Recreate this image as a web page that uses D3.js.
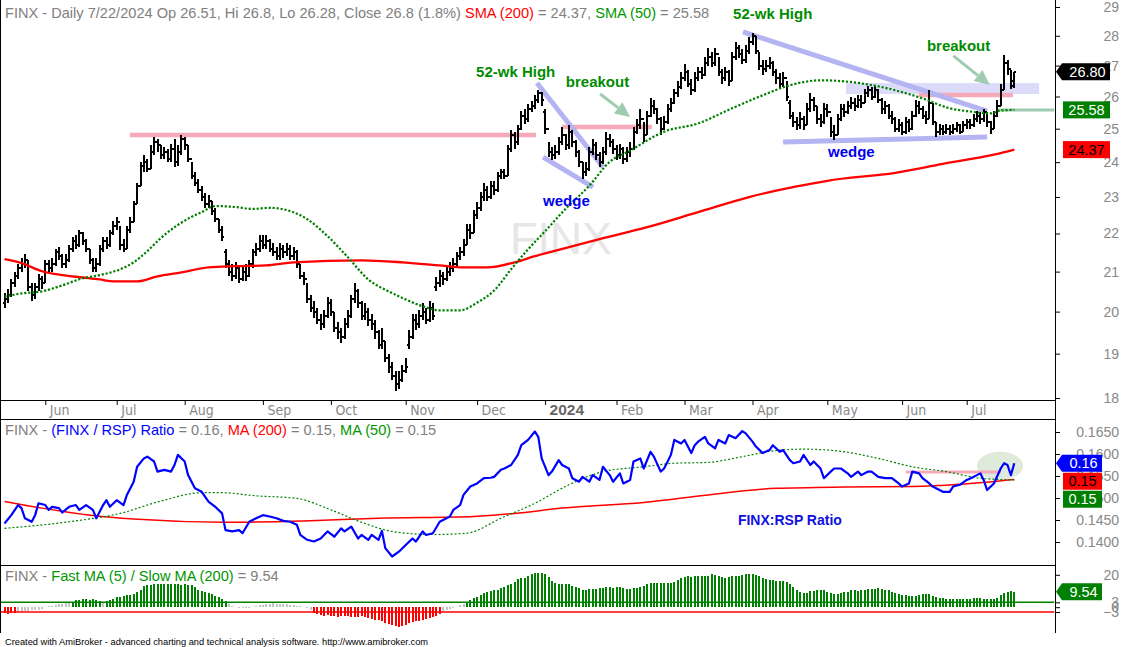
<!DOCTYPE html>
<html>
<head>
<meta charset="utf-8">
<script src="https://cdn.jsdelivr.net/npm/d3@7/dist/d3.min.js"></script>
<style>
  body { margin: 0; background: #fff; }
  svg { display: block; font-family: "Liberation Sans", Arial, sans-serif; }
  text { white-space: pre; }
</style>
</head>
<body>
<svg id="chart" width="1123" height="647"></svg>
<script>
// FINX daily bars. bar 0 = 15 May 2023, bar 297 = 22 Jul 2024
var opens = [
  20.2,20.3,20.4,20.7,20.9,21.1,21.2,21.3,20.6,20.4,
  20.6,20.8,20.7,21.2,21.1,21.2,21.5,21.4,21.2,21.3,
  21.6,21.8,21.7,22.0,21.8,21.6,21.3,21.1,21.2,21.6,
  21.8,21.7,22.0,22.2,22.3,21.7,21.6,22.1,22.3,22.8,
  23.3,23.9,24.0,23.8,24.3,24.6,24.5,24.2,24.3,24.1,
  24.4,24.0,24.3,24.7,24.5,24.1,23.6,23.4,23.2,23.0,
  22.8,22.9,22.6,22.4,22.1,21.5,21.2,21.0,20.9,21.1,
  20.8,21.0,20.9,21.2,21.5,21.6,21.8,21.7,21.8,21.6,
  21.5,21.4,21.6,21.5,21.6,21.4,21.5,21.2,20.9,20.8,
  20.3,20.1,20.0,19.8,19.7,19.9,20.2,20.0,19.6,19.5,
  19.4,19.7,19.9,20.3,20.5,20.2,19.9,20.0,19.8,19.7,
  19.5,19.2,19.3,18.9,18.7,18.5,18.3,18.4,18.6,19.2,
  19.4,19.8,19.7,19.9,20.0,19.8,20.1,20.6,20.7,20.9,
  20.8,21.0,21.1,21.2,21.4,21.5,21.7,22.1,22.0,22.5,
  22.7,23.0,23.2,23.0,23.3,23.2,23.6,23.7,23.6,24.4,
  24.8,24.6,25.0,25.4,25.3,25.6,25.7,25.9,26.1,25.5,
  25.0,24.3,24.2,24.3,24.6,24.8,24.5,24.9,24.6,24.3,
  24.0,23.7,23.8,24.3,24.5,24.2,24.0,24.3,24.7,24.6,
  24.4,24.2,24.4,24.1,24.3,24.4,24.9,25.1,25.3,24.8,
  25.4,25.7,25.6,25.3,25.0,25.2,25.6,25.8,26.1,26.3,
  26.6,26.8,26.4,26.2,26.6,26.8,26.7,27.1,27.3,27.1,
  27.4,26.8,26.6,26.8,26.5,27.3,27.6,27.4,27.2,27.5,
  27.8,28.0,27.5,27.0,26.9,27.0,27.1,26.8,26.6,26.4,
  26.6,25.8,25.4,25.2,25.1,25.3,25.1,25.6,25.9,25.7,
  25.3,25.2,25.6,25.5,24.9,24.8,25.3,25.6,25.5,25.7,
  25.8,25.7,25.9,25.8,26.1,26.2,26.0,26.2,25.9,25.6,
  25.7,25.4,25.3,25.0,25.1,24.9,25.2,25.0,25.4,25.7,
  25.6,25.4,25.3,25.8,25.2,24.9,25.0,24.9,25.0,24.9,
  25.0,25.1,24.9,25.1,25.2,25.1,25.3,25.4,25.3,25.5,
  25.2,25.0,25.4,25.7,26.2,27.1,26.9,26.51
];
var highs = [
  20.45,20.55,20.8,21.0,21.2,21.35,21.45,21.3,20.7,20.7,
  20.95,20.9,21.3,21.3,21.35,21.6,21.65,21.45,21.45,21.7,
  21.9,21.95,22.1,22.05,21.85,21.6,21.35,21.35,21.7,21.9,
  21.9,22.1,22.35,22.45,22.2,21.85,22.2,22.45,22.9,23.4,
  24.0,24.2,24.1,24.5,24.75,24.7,24.5,24.45,24.4,24.55,
  24.7,24.5,24.8,24.75,24.5,24.0,23.7,23.5,23.3,23.1,
  23.05,22.9,22.7,22.4,22.2,21.6,21.3,21.2,21.25,21.15,
  21.15,21.2,21.3,21.6,21.75,21.95,21.95,21.95,21.85,21.75,
  21.65,21.75,21.7,21.75,21.7,21.65,21.55,21.2,21.0,20.7,
  20.4,20.25,20.1,19.95,20.05,20.35,20.3,20.0,19.75,19.6,
  19.85,20.05,20.4,20.7,20.55,20.25,20.2,20.1,19.95,19.8,
  19.55,19.6,19.3,19.0,18.8,18.6,18.6,18.75,18.9,19.55,
  19.95,19.95,20.05,20.2,20.1,20.25,20.2,20.85,21.05,21.0,
  21.15,21.25,21.35,21.5,21.65,21.85,22.25,22.25,22.65,22.85,
  23.15,23.4,23.3,23.45,23.45,23.7,23.8,23.8,24.5,24.95,
  24.9,25.1,25.55,25.6,25.75,25.85,26.05,26.2,26.15,25.6,
  24.6,24.45,24.5,24.75,25.05,24.85,25.1,24.95,24.65,24.35,
  24.0,24.0,24.45,24.7,24.6,24.3,24.45,24.9,24.85,24.7,
  24.5,24.55,24.45,24.45,24.6,25.05,25.3,25.6,25.2,25.55,
  25.95,25.9,25.65,25.35,25.4,25.75,25.95,26.25,26.5,26.8,
  27.05,26.85,26.55,26.8,26.95,26.95,27.3,27.6,27.45,27.6,
  27.3,26.9,26.95,26.85,27.45,27.8,27.7,27.55,27.7,27.95,
  28.1,28.0,27.45,27.2,27.2,27.3,27.15,26.9,26.75,26.8,
  26.5,25.9,25.5,25.35,25.5,25.4,25.8,26.1,26.0,25.7,
  25.45,25.8,25.75,25.35,25.1,25.45,25.75,25.75,25.85,26.0,
  25.95,26.05,26.05,26.25,26.35,26.3,26.35,26.25,25.95,25.85,
  25.75,25.55,25.35,25.3,25.2,25.35,25.3,25.55,25.9,25.85,
  25.7,25.55,26.2,25.8,25.2,25.15,25.1,25.15,25.1,25.15,
  25.2,25.15,25.25,25.3,25.3,25.45,25.55,25.5,25.6,25.5,
  25.25,25.55,25.9,26.4,27.35,27.2,26.85,26.8
];
var lows = [
  20.1,20.2,20.35,20.6,20.8,21.0,21.1,20.5,20.25,20.3,
  20.5,20.55,20.7,21.0,21.0,21.15,21.3,21.1,21.1,21.25,
  21.5,21.6,21.65,21.7,21.5,21.2,21.0,21.0,21.15,21.5,
  21.6,21.65,21.95,22.1,21.55,21.5,21.6,22.0,22.3,22.8,
  23.3,23.7,23.7,23.8,24.2,24.3,24.1,24.1,24.0,24.0,
  23.85,23.9,24.2,24.35,24.0,23.5,23.3,23.1,22.9,22.7,
  22.7,22.5,22.3,22.0,21.8,21.1,20.9,20.75,20.8,20.7,
  20.75,20.75,20.85,21.1,21.4,21.5,21.6,21.6,21.5,21.4,
  21.3,21.3,21.35,21.4,21.3,21.3,21.1,20.8,20.65,20.2,
  20.0,19.85,19.7,19.55,19.6,19.85,19.9,19.5,19.35,19.25,
  19.35,19.6,19.85,20.2,20.1,19.8,19.8,19.65,19.55,19.35,
  19.1,19.1,18.8,18.55,18.4,18.15,18.2,18.35,18.55,19.1,
  19.35,19.55,19.6,19.8,19.7,19.75,19.8,20.5,20.6,20.65,
  20.75,20.9,21.0,21.15,21.3,21.4,21.7,21.85,22.0,22.4,
  22.6,22.9,22.9,22.95,23.05,23.15,23.5,23.5,23.6,24.3,
  24.4,24.5,24.95,25.15,25.2,25.5,25.6,25.8,25.7,24.85,
  24.15,24.05,24.1,24.2,24.5,24.35,24.4,24.45,24.15,23.85,
  23.5,23.6,23.75,24.2,24.05,23.85,23.95,24.2,24.45,24.25,
  24.05,24.1,23.95,24.0,24.15,24.35,24.85,25.0,24.6,24.8,
  25.35,25.45,25.15,24.8,24.95,25.15,25.5,25.75,26.0,26.25,
  26.5,26.3,26.05,26.15,26.5,26.55,26.65,27.0,26.95,27.0,
  26.65,26.4,26.5,26.35,26.5,27.2,27.25,27.05,27.1,27.4,
  27.7,27.4,26.85,26.7,26.8,26.9,26.65,26.4,26.25,26.3,
  25.85,25.3,25.05,24.95,25.0,24.95,25.1,25.5,25.55,25.15,
  25.05,25.15,25.35,24.75,24.65,24.8,25.25,25.35,25.45,25.6,
  25.55,25.65,25.65,25.8,26.0,25.9,25.95,25.8,25.45,25.45,
  25.3,25.15,24.9,24.9,24.8,24.85,24.9,24.95,25.35,25.45,
  25.3,25.15,25.3,25.1,24.75,24.8,24.8,24.85,24.8,24.85,
  24.9,24.85,24.9,25.0,25.0,25.05,25.2,25.15,25.2,25.05,
  24.85,25.0,25.35,25.7,26.2,26.7,26.25,26.28
];
var closes = [
  20.3,20.4,20.7,20.9,21.1,21.2,21.3,20.6,20.4,20.6,
  20.8,20.7,21.2,21.1,21.2,21.5,21.4,21.2,21.3,21.6,
  21.8,21.7,22.0,21.8,21.6,21.3,21.1,21.2,21.6,21.8,
  21.7,22.0,22.2,22.3,21.7,21.6,22.1,22.3,22.8,23.3,
  23.9,24.0,23.8,24.3,24.6,24.5,24.2,24.3,24.1,24.4,
  24.0,24.3,24.7,24.5,24.1,23.6,23.4,23.2,23.0,22.8,
  22.9,22.6,22.4,22.1,21.9,21.2,21.0,20.9,21.1,20.8,
  21.0,20.9,21.2,21.5,21.6,21.8,21.7,21.8,21.6,21.5,
  21.4,21.6,21.5,21.6,21.4,21.5,21.2,20.9,20.8,20.3,
  20.1,20.0,19.8,19.7,19.9,20.2,20.0,19.6,19.5,19.4,
  19.7,19.9,20.3,20.5,20.2,19.9,20.0,19.8,19.7,19.5,
  19.2,19.3,18.9,18.7,18.5,18.3,18.4,18.6,18.7,19.4,
  19.8,19.7,19.9,20.0,19.8,20.1,19.9,20.7,20.9,20.8,
  21.0,21.1,21.2,21.4,21.5,21.7,22.1,22.0,22.5,22.7,
  23.0,23.2,23.0,23.3,23.2,23.6,23.7,23.6,24.4,24.8,
  24.6,25.0,25.4,25.3,25.6,25.7,25.9,26.1,25.9,25.0,
  24.3,24.2,24.3,24.6,24.8,24.5,24.9,24.6,24.3,24.0,
  23.7,23.8,24.3,24.5,24.2,24.0,24.3,24.7,24.6,24.4,
  24.2,24.4,24.1,24.3,24.4,24.9,25.1,25.3,24.8,25.4,
  25.7,25.6,25.3,25.0,25.2,25.6,25.8,26.1,26.3,26.6,
  26.8,26.4,26.2,26.6,26.8,26.7,27.1,27.3,27.1,27.4,
  26.8,26.6,26.8,26.5,27.3,27.6,27.4,27.2,27.5,27.8,
  28.0,27.5,27.0,26.9,27.0,27.1,26.8,26.6,26.4,26.6,
  26.0,25.4,25.2,25.1,25.3,25.1,25.6,25.9,25.7,25.3,
  25.2,25.6,25.5,24.9,24.8,25.3,25.6,25.5,25.7,25.8,
  25.7,25.9,25.8,26.1,26.2,26.0,26.2,25.9,25.6,25.7,
  25.4,25.3,25.0,25.1,24.9,25.2,25.0,25.4,25.7,25.6,
  25.4,25.3,25.8,25.2,24.9,25.0,24.9,25.0,24.9,25.0,
  25.1,24.9,25.1,25.2,25.1,25.3,25.4,25.3,25.5,25.2,
  25.0,25.4,25.7,26.2,27.1,26.9,26.33,26.8
];

// moving averages, sampled along the drawn lines (bar, value)
var sma200Bar = [0,5,11,17,23,28,32,39,45,52,60,68,77,85,105,117,128,134,142,150,156,161,175,189,204,219,228,233,242,262,276,291,297];
var sma200 = [21.32,21.22,21.01,20.91,20.85,20.80,20.75,20.75,20.88,20.98,21.11,21.14,21.16,21.24,21.29,21.24,21.16,21.11,21.11,21.24,21.40,21.52,21.85,22.17,22.58,23.00,23.20,23.30,23.46,23.69,23.95,24.22,24.37];
var sma50Bar = [0,5,11,17,23,28,34,38,42,46,51,55,58,62,68,73,78,84,89,95,101,107,113,118,123,128,134,139,144,149,154,159,165,172,178,184,194,204,214,223,231,240,252,262,270,278,284,290,293,297];
var sma50 = [20.37,20.45,20.50,20.65,20.83,20.91,21.06,21.24,21.53,21.88,22.23,22.45,22.58,22.75,22.72,22.67,22.70,22.61,22.39,21.93,21.37,20.80,20.50,20.30,20.13,20.03,20.03,20.22,20.52,21.06,21.58,22.06,22.67,23.32,24.01,24.34,24.91,25.16,25.63,26.04,26.36,26.52,26.42,26.20,25.94,25.63,25.53,25.47,25.56,25.58];

// FINX / RSP ratio
var ratioBar = [
  0,2,4,5,6,8,9,10,12,13, 14,16,17,19,21,22,24,26,27,29,
  30,31,33,35,36,38,39,41,42,44, 45,47,49,50,51,53,54,56,58,60,
  62,64,65,67,69,70,72,74,76,78, 80,82,84,86,87,89,91,93,95,97,
  99,100,102,104,105,107,108,110,111,112, 114,116,118,120,121,123,124,126,128,130,
  131,132,134,135,137,139,141,143,144,146, 147,149,151,152,154,156,157,158,160,161,
  163,164,166,167,169,170,172,173,175,176, 178,179,181,182,184,185,187,188,190,191,
  193,194,196,197,199,200,202,203,204,206, 207,209,210,212,213,215,217,218,220,221,
  223,225,226,228,229,231,232,234,235,237, 238,240,241,243,244,246,248,249,251,252,
  254,255,257,259,261,263,264,266,267,269, 270,272,273,275,276,278,279,281,283,285,
  287,288,289,291,293,294,295,296,297
];
var ratio = [
  .1442,.1461,.1484,.1477,.1454,.1446,.1461,.1488,.1484,.1473, .1480,.1477,.1467,.1480,.1484,.1473,.1484,.1473,.1454,.1484,
  .1495,.1480,.1495,.1484,.1507,.1537,.1571,.1590,.1594,.1583, .1560,.1564,.1560,.1575,.1598,.1583,.1552,.1522,.1514,.1492,
  .1480,.1465,.1427,.1424,.1427,.1420,.1446,.1454,.1461,.1458, .1454,.1448,.1446,.1439,.1416,.1405,.1401,.1408,.1424,.1412,
  .1431,.1424,.1435,.1408,.1416,.1405,.1416,.1405,.1425,.1386, .1367,.1378,.1393,.1408,.1401,.1424,.1416,.1420,.1446,.1454,
  .1458,.1473,.1484,.1507,.1526,.1533,.1545,.1546,.1548,.1564, .1567,.1575,.1598,.1620,.1632,.1651,.1639,.1590,.1552,.1560,
  .1586,.1575,.1567,.1545,.1537,.1548,.1537,.1552,.1541,.1571, .1552,.1537,.1556,.1533,.1541,.1583,.1590,.1567,.1605,.1594,
  .1560,.1567,.1598,.1632,.1624,.1632,.1602,.1620,.1628,.1639, .1624,.1613,.1632,.1624,.1643,.1636,.1652,.1647,.1628,.1617,
  .1602,.1609,.1620,.1605,.1609,.1586,.1579,.1583,.1598,.1575, .1583,.1567,.1545,.1560,.1567,.1567,.1556,.1548,.1560,.1552,
  .1560,.1560,.1548,.1545,.1545,.1533,.1526,.1533,.1560,.1556, .1545,.1533,.1526,.1518,.1514,.1514,.1526,.1530,.1541,.1548,
  .1556,.1541,.1518,.1533,.1567,.1579,.1575,.1552,.1579
];
var ratioMa200Bar = [0,11,26,38,64,88,110,138,150,164,188,207,227,247,267,281,297];
var ratioMa200 = [.1492,.1477,.1460,.1452,.1445,.1448,.1454,.1458,.1465,.1477,.1490,.1507,.1522,.1525,.1526,.1531,.1542];
var ratioMa50Bar = [0,19,34,46,58,64,74,86,96,106,114,126,136,146,156,166,176,188,197,207,217,227,235,245,257,267,277,287,297];
var ratioMa50 = [.1431,.1446,.1465,.1493,.1512,.1512,.1505,.1499,.1473,.1442,.1424,.1417,.1420,.1454,.1488,.1530,.1560,.1571,.1579,.1581,.1594,.1608,.1611,.1607,.1590,.1571,.1560,.1545,.1541];

// Fast MA(5) / Slow MA(200), one value per bar
var fastSlow = [
  -3.6,-4.0,-3.8,-3.4,-2.8,-2.6,-2.4,-2.2,-2.0,-1.8,
  -1.5,-1.0,0.3,0.8,1.0,1.4,1.8,2.2,2.4,2.7,
  3.5,4.2,4.6,4.8,4.9,4.6,4.8,4.3,3.6,2.6,
  3.8,4.4,5.2,6.2,6.6,7.0,7.4,7.8,8.2,9.2,
  10.6,12.8,13.6,14.0,14.1,14.1,14.1,14.1,14.1,14.1,
  14.1,14.1,14.0,14.1,13.9,13.4,12.2,10.8,9.8,9.2,
  8.8,8.0,7.2,6.0,4.8,3.6,2.0,0.8,0.2,-0.3,
  -0.5,-0.4,-0.2,0.1,0.5,1.2,1.6,1.9,2.2,2.4,
  2.2,2.0,1.8,1.7,1.5,1.3,1.0,0.6,0.2,-0.8,
  -1.8,-3.4,-4.2,-4.8,-5.2,-5.0,-5.4,-5.6,-5.8,-5.6,
  -5.4,-5.6,-6.0,-6.2,-5.8,-5.6,-6.0,-6.4,-7.0,-7.6,
  -8.2,-8.8,-9.6,-10.4,-11.0,-11.6,-12.0,-11.8,-11.2,-10.0,
  -9.4,-8.8,-8.4,-7.8,-7.2,-6.6,-6.0,-5.2,-4.2,-2.4,
  -1.6,-1.0,-0.4,0.4,1.2,2.2,3.4,4.2,5.4,6.6,
  7.5,8.6,9.6,10.2,10.8,10.8,11.6,12.5,13.7,14.5,
  15.8,17.4,17.8,18.2,19.5,20.3,20.9,21.1,21.1,20.3,
  18.8,16.4,14.7,14.3,14.1,14.3,14.1,13.1,12.3,11.6,
  10.8,10.6,11.0,11.2,11.2,11.6,12.1,12.3,12.3,12.1,
  12.3,12.3,11.6,11.4,11.0,11.6,12.1,12.7,13.3,14.1,
  14.7,15.1,15.1,15.1,15.1,15.1,15.1,15.8,16.8,17.8,
  18.4,19.3,18.8,19.3,19.3,19.3,19.3,19.5,20.3,19.9,
  19.1,18.4,17.8,18.4,19.1,19.5,19.5,19.9,20.3,20.3,
  20.3,19.9,19.3,18.2,17.4,16.8,16.6,16.4,16.2,16.2,
  15.8,14.1,12.3,10.6,9.2,8.8,9.0,10.0,10.2,10.4,
  10.4,10.4,9.2,9.0,8.4,8.4,8.6,9.2,9.6,10.4,
  10.4,10.2,10.8,10.8,11.0,11.2,11.4,11.6,11.0,10.6,
  10.6,9.6,8.8,8.4,7.5,7.5,6.9,6.9,7.1,7.5,
  7.9,8.1,7.9,7.1,6.3,5.9,5.5,5.3,5.3,5.3,
  5.3,5.3,5.3,5.3,5.3,5.7,5.7,5.7,5.3,5.3,
  5.3,5.3,5.9,7.5,8.6,9.4,9.8,9.54
];

// axis labels
var monthNames = ["Jun","Jul","Aug","Sep","Oct","Nov","Dec","2024","Feb","Mar","Apr","May","Jun","Jul"];
var monthBar = [12,33,53,76,96,118,139,159,180,200,220,242,264,283];
var priceTicks = [18,19,20,21,22,23,24,25,26,27,28,29];
var ratioTicks = [0.1400,0.1450,0.1500,0.1550,0.1600,0.1650];
var oscTicks = [20,3,0,-3];

// ---------------------------------------------------------------
var RED = "#ff0000", GREEN = "#008000", BLUE = "#0000ff", GRAY = "#808080";
var LAV = "#b4b4f2", PINK = "#f6a9b8", ARROW = "#9fcbb0";
var last = closes.length - 1;

var svg = d3.select("#chart");
svg.append("rect").attr("width", 1123).attr("height", 647).attr("fill", "#fff");

var plotL = 1, plotR = 1054.5, axisX = 1055;
var x = d3.scaleLinear().domain([0, 297]).range([4.5, 4.5 + 297 * 3.4]);
var yP = d3.scaleLog().domain([18, 29]).range([398, 7]);
var yR = d3.scaleLinear().domain([0.14, 0.165]).range([542, 432]);
var yO = d3.scaleLinear().domain([0, 20]).range([607.2, 574.8]);

var defs = svg.append("defs");
function clip(id, y0, y1) {
  defs.append("clipPath").attr("id", id).append("rect")
    .attr("x", plotL).attr("y", y0).attr("width", plotR - plotL).attr("height", y1 - y0);
}
clip("cp", 0, 400);
clip("cr", 420, 565);
clip("co", 566, 633);

function pts(bars, vals) { return bars.map(function(b, i){ return [b, vals[i]]; }); }

// ---------------- price panel
var gP = svg.append("g").attr("clip-path", "url(#cp)");

gP.append("text").attr("x", 561).attr("y", 254).attr("text-anchor", "middle")
  .attr("font-size", 44.7).attr("fill", "#e6e6e6").text("FINX");

// chartist's drawings (bar, price)
var band = {b0: 247.5, b1: 304.3, p0: 26.43, p1: 26.08};
gP.append("rect")
  .attr("x", x(band.b0)).attr("width", x(band.b1) - x(band.b0))
  .attr("y", yP(band.p0)).attr("height", yP(band.p1) - yP(band.p0))
  .attr("fill", "#dcdcfa");

var pinkLines = [[36.9, 156.3, 24.81], [164, 190.4, 25.05], [268.9, 296.6, 26.05]];
gP.selectAll(".pink").data(pinkLines).enter().append("line")
  .attr("x1", function(d){ return x(d[0]); }).attr("x2", function(d){ return x(d[1]); })
  .attr("y1", function(d){ return yP(d[2]); }).attr("y2", function(d){ return yP(d[2]); })
  .attr("stroke", PINK).attr("stroke-width", 4.5);

var wedgeLines = [
  [156.6, 26.43, 176.0, 23.86], [158.4, 24.15, 173.1, 23.28],
  [217.2, 28.13, 289.0, 25.54], [229.0, 24.60, 289.0, 24.75]
];
gP.selectAll(".wedge").data(wedgeLines).enter().append("line")
  .attr("x1", function(d){ return x(d[0]); }).attr("y1", function(d){ return yP(d[1]); })
  .attr("x2", function(d){ return x(d[2]); }).attr("y2", function(d){ return yP(d[3]); })
  .attr("stroke", LAV).attr("stroke-width", 5).attr("stroke-linecap", "butt");

function arrow(g, b1, p1, b2, p2) {
  var x1 = x(b1), y1 = yP(p1), x2 = x(b2), y2 = yP(p2);
  var a = Math.atan2(y2 - y1, x2 - x1), len = 15, w = 7;
  var bx = x2 - len * Math.cos(a), by = y2 - len * Math.sin(a);
  g.append("line").attr("x1", x1).attr("y1", y1).attr("x2", bx).attr("y2", by)
    .attr("stroke", ARROW).attr("stroke-width", 3);
  g.append("path")
    .attr("d", "M" + x2 + "," + y2 +
      "L" + (bx + w * Math.sin(a)) + "," + (by - w * Math.cos(a)) +
      "L" + (bx - w * Math.sin(a)) + "," + (by + w * Math.cos(a)) + "Z")
    .attr("fill", ARROW);
}
arrow(gP, 175.2, 26.08, 184.0, 25.36);
arrow(gP, 279.1, 27.32, 289.8, 26.37);

// level line to the SMA(50) label
gP.append("line").attr("x1", x(292.2)).attr("x2", plotR)
  .attr("y1", yP(sma50[sma50.length - 1])).attr("y2", yP(sma50[sma50.length - 1]))
  .attr("stroke", ARROW).attr("stroke-width", 3);

// OHLC bars
var gBars = gP.append("g").attr("shape-rendering", "crispEdges");
gBars.selectAll("path").data(closes).enter().append("path")
  .attr("d", function(c, i){
    var xi = x(i);
    return "M" + xi + "," + yP(highs[i]) + "V" + yP(lows[i]) +
      "M" + (xi - 2) + "," + yP(opens[i]) + "H" + xi +
      "M" + xi + "," + yP(c) + "H" + (xi + 2);
  })
  .attr("stroke", "#000").attr("stroke-width", 2).attr("fill", "none");

var smooth = d3.line().curve(d3.curveMonotoneX)
  .x(function(d){ return x(d[0]); });

gP.append("path").datum(pts(sma200Bar, sma200))
  .attr("d", smooth.y(function(d){ return yP(d[1]); }))
  .attr("fill", "none").attr("stroke", RED).attr("stroke-width", 2.3);
gP.append("path").datum(pts(sma50Bar, sma50))
  .attr("d", smooth.y(function(d){ return yP(d[1]); }))
  .attr("fill", "none").attr("stroke", GREEN).attr("stroke-width", 2.2)
  .attr("stroke-dasharray", "2.2,1.8");

var notes = [
  {t: "52-wk High", b: 138.7, p: 26.63, c: "#008c00"},
  {t: "breakout",   b: 165.1, p: 26.30, c: "#008c00"},
  {t: "wedge",      b: 158.4, p: 22.75, c: "#0000ee"},
  {t: "52-wk High", b: 214.3, p: 28.58, c: "#008c00"},
  {t: "breakout",   b: 271.3, p: 27.48, c: "#008c00"},
  {t: "wedge",      b: 242.2, p: 24.15, c: "#0000ee"}
];
gP.selectAll(".note").data(notes).enter().append("text")
  .attr("x", function(d){ return x(d.b); }).attr("y", function(d){ return yP(d.p); })
  .attr("font-size", 15).attr("font-weight", "bold")
  .attr("fill", function(d){ return d.c; })
  .text(function(d){ return d.t; });

// ---------------- ratio panel
var gR = svg.append("g").attr("clip-path", "url(#cr)");
var lineR = d3.line().x(function(d){ return x(d[0]); }).y(function(d){ return yR(d[1]); });
var smoothR = d3.line().curve(d3.curveMonotoneX)
  .x(function(d){ return x(d[0]); }).y(function(d){ return yR(d[1]); });

gR.append("ellipse")
  .attr("cx", x(292.8)).attr("cy", yR(0.1573))
  .attr("rx", x(292.8 + 6.8) - x(292.8)).attr("ry", yR(0.1573 - 0.0032) - yR(0.1573))
  .attr("fill", "#dfeadb");
gR.append("line").attr("x1", x(265.1)).attr("x2", x(293.1))
  .attr("y1", yR(0.1559)).attr("y2", yR(0.1559))
  .attr("stroke", PINK).attr("stroke-width", 3);

gR.append("path").datum(pts(ratioMa200Bar, ratioMa200)).attr("d", smoothR)
  .attr("fill", "none").attr("stroke", RED).attr("stroke-width", 1.5);
gR.append("path").datum(pts(ratioMa50Bar, ratioMa50)).attr("d", smoothR)
  .attr("fill", "none").attr("stroke", GREEN).attr("stroke-width", 1.2)
  .attr("stroke-dasharray", "2,2");
gR.append("path").datum(pts(ratioBar, ratio)).attr("d", lineR)
  .attr("fill", "none").attr("stroke", BLUE).attr("stroke-width", 2.2)
  .attr("stroke-linejoin", "round");

gR.append("text").attr("x", x(215.7)).attr("y", yR(0.14386))
  .attr("font-size", 14).attr("font-weight", "bold").attr("fill", "#1010e0")
  .text("FINX:RSP Ratio");

// ---------------- Fast / Slow MA panel
var gO = svg.append("g").attr("clip-path", "url(#co)");
gO.append("g").attr("shape-rendering", "crispEdges")
  .selectAll("rect").data(fastSlow).enter().append("rect")
  .attr("x", function(v, i){ return x(i) - 1; }).attr("width", 2)
  .attr("y", function(v){ return Math.min(yO(v), yO(0)); })
  .attr("height", function(v){ return Math.abs(yO(v) - yO(0)); })
  .attr("fill", function(v){ return v > 3 ? GREEN : (v < -3 ? RED : "#c4c4c4"); });
[[3, GREEN], [-3, RED]].forEach(function(l){
  gO.append("line").attr("x1", plotL).attr("x2", plotR)
    .attr("y1", yO(l[0])).attr("y2", yO(l[0]))
    .attr("stroke", l[1]).attr("stroke-width", 1.5);
});

// ---------------- frame, axes
var frame = svg.append("g").attr("stroke", "#000").attr("stroke-width", 1).attr("shape-rendering", "crispEdges");
frame.append("line").attr("x1", 0.5).attr("x2", 0.5).attr("y1", 0).attr("y2", 633);
frame.append("line").attr("x1", axisX).attr("x2", axisX).attr("y1", 0).attr("y2", 633);
[400, 419, 565].forEach(function(yy){
  frame.append("line").attr("x1", 0).attr("x2", axisX).attr("y1", yy + 0.5).attr("y2", yy + 0.5);
});

function rightAxis(scale, ticks, fmt) {
  var g = svg.append("g").attr("transform", "translate(" + axisX + ",0)")
    .call(d3.axisRight(scale).tickValues(ticks).tickSize(5).tickFormat(fmt));
  g.select(".domain").remove();
  g.attr("font-family", null).attr("font-size", 14).attr("color", "#000");
  g.selectAll("text").attr("x", 64).attr("text-anchor", "end").attr("fill", "#888");
}
rightAxis(yP, priceTicks, d3.format("d"));
rightAxis(yR, ratioTicks, d3.format(".4f"));
rightAxis(yO, oscTicks, d3.format("d"));

var gx = svg.append("g").attr("transform", "translate(0,400)")
  .call(d3.axisBottom(x).tickValues(monthBar).tickSize(5)
    .tickFormat(function(d, i){ return monthNames[i]; }));
gx.select(".domain").remove();
gx.attr("font-family", null).attr("color", "#000");
gx.selectAll("text").attr("x", 4).attr("y", 15).attr("dy", 0).attr("text-anchor", "start")
  .attr("font-family", "'Liberation Sans Narrow','DejaVu Sans Condensed','Liberation Sans',sans-serif")
  .attr("font-size", function(d, i){ return monthNames[i] === "2024" ? 15.5 : 14; })
  .attr("font-weight", function(d, i){ return monthNames[i] === "2024" ? "bold" : null; })
  .attr("font-family", function(d, i){ return monthNames[i] === "2024" ? "'Liberation Sans',sans-serif" : "'Liberation Sans Narrow','DejaVu Sans Condensed',sans-serif"; })
  .attr("fill", function(d, i){ return monthNames[i] === "2024" ? "#666" : "#888"; });

// ---------------- value labels at the right edge
function valueBoxes(items, left, right) {
  items.sort(function(a, b){ return a.y - b.y; });
  var prev = -1e9;
  items.forEach(function(d){
    var yc = Math.max(d.y, prev + 18);
    prev = yc;
    var g = svg.append("g");
    if (d.arrow) {
      g.append("path").attr("d", "M" + (axisX + 1) + "," + yc + "L" + (left - 1) + "," + (yc - 8.5) +
        "H" + right + "V" + (yc + 8.5) + "H" + (left - 1) + "Z").attr("fill", d.fill);
    } else {
      g.append("rect").attr("x", left).attr("y", yc - 8.5).attr("width", right - left).attr("height", 17).attr("fill", d.fill);
    }
    g.append("text").attr("x", (left + right) / 2 + (d.arrow ? 1 : 0)).attr("y", yc + 5.2)
      .attr("text-anchor", "middle").attr("font-size", 14.5).attr("fill", d.color).text(d.t);
  });
}
var s50 = sma50[sma50.length - 1], s200 = sma200[sma200.length - 1];
valueBoxes([
  {y: yP(closes[last]), t: closes[last].toFixed(2), fill: "#000", color: "#fff", arrow: true},
  {y: yP(s50), t: s50.toFixed(2), fill: GREEN, color: "#fff"},
  {y: yP(s200), t: s200.toFixed(2), fill: RED, color: "#000"}
], 1063, 1110);
var rLast = ratio[ratio.length - 1], r200 = ratioMa200[ratioMa200.length - 1], r50 = ratioMa50[ratioMa50.length - 1];
valueBoxes([
  {y: yR(rLast), t: rLast.toFixed(2), fill: BLUE, color: "#fff", arrow: true},
  {y: yR(r200), t: r200.toFixed(2), fill: RED, color: "#000"},
  {y: yR(r50) + 0.5, t: r50.toFixed(2), fill: GREEN, color: "#fff"}
], 1063, 1102);
valueBoxes([
  {y: yO(fastSlow[last]), t: fastSlow[last].toFixed(2), fill: GREEN, color: "#fff", arrow: true}
], 1063, 1102);

// ---------------- titles
function title(y, parts) {
  var t = svg.append("text").attr("x", 5).attr("y", y).attr("font-size", 14.6).attr("xml:space", "preserve");
  parts.forEach(function(p){ t.append("tspan").attr("fill", p[1]).text(p[0]); });
}
var chg = (closes[last] / closes[last - 1] - 1) * 100;
title(18, [
  ["FINX - Daily 7/22/2024 Op " + opens[last] + ", Hi " + highs[last] + ", Lo " + lows[last] +
   ", Close " + closes[last] + " (" + chg.toFixed(1) + "%) ", GRAY],
  ["SMA (200)", RED], [" = " + s200.toFixed(2) + ", ", GRAY],
  ["SMA (50)", "#009600"], [" = " + s50.toFixed(2), GRAY]
]);
title(435, [
  ["FINX - ", GRAY], ["(FINX / RSP) Ratio", BLUE], [" = " + rLast.toFixed(2) + ", ", GRAY],
  ["MA (200)", RED], [" = " + r200.toFixed(2) + ", ", GRAY],
  ["MA (50)", "#009600"], [" = " + r50.toFixed(2), GRAY]
]);
title(581, [
  ["FINX - ", GRAY], ["Fast MA (5) / Slow MA (200)", "#009600"], [" = " + fastSlow[last].toFixed(2), GRAY]
]);

svg.append("text").attr("x", 5).attr("y", 645).attr("font-size", 9.5).attr("fill", "#000")
  .attr("textLength", 423).attr("lengthAdjust", "spacingAndGlyphs")
  .text("Created with AmiBroker - advanced charting and technical analysis software. http://www.amibroker.com");
</script>
</body>
</html>
